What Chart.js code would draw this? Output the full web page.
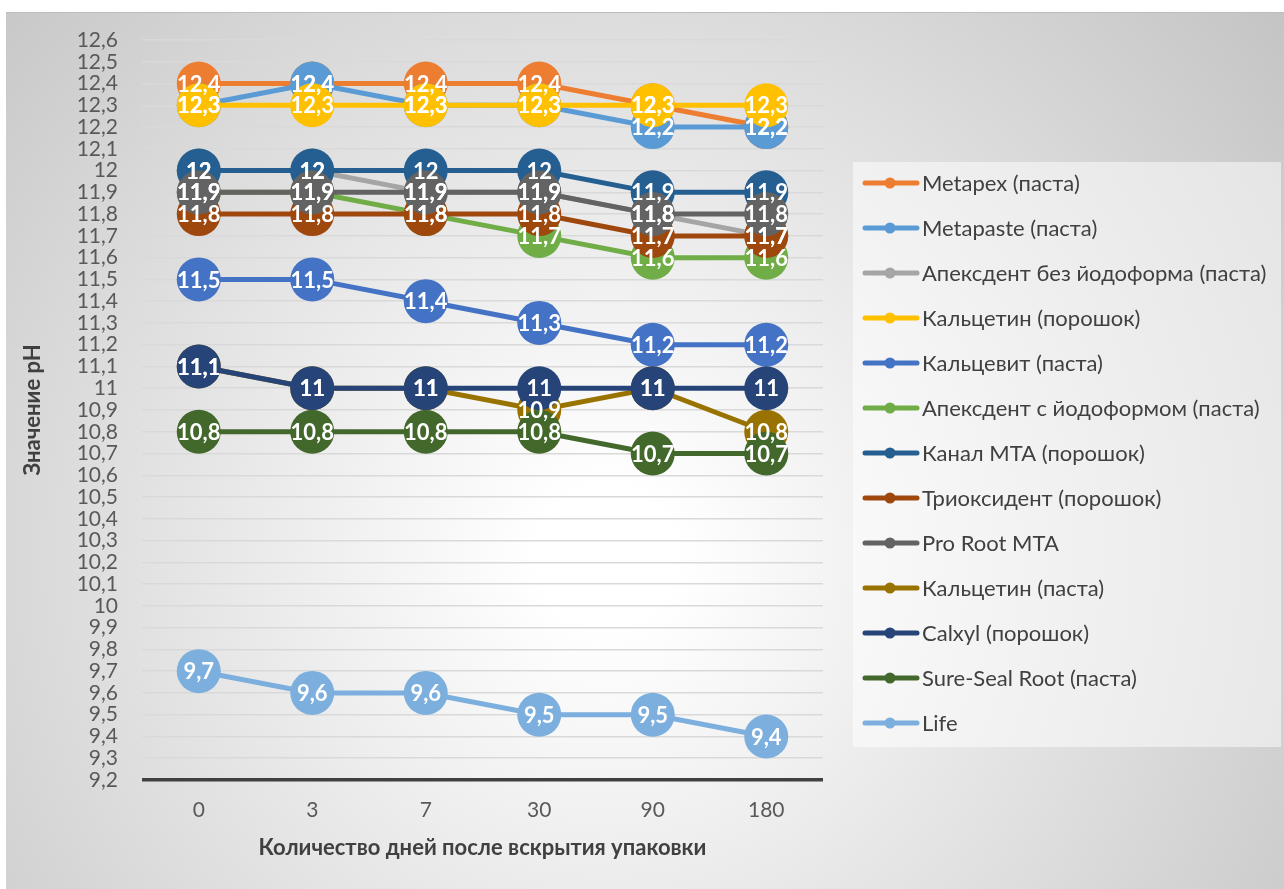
<!DOCTYPE html>
<html>
<head>
<meta charset="utf-8">
<script src="https://cdn.jsdelivr.net/npm/chart.js@4.4.1/dist/chart.umd.min.js"></script>
<style>
  body { margin: 0; background: #fff; }
  #wrap { position: relative; width: 1284px; height: 889px; }
  #bg {
    position: absolute; left: 6px; top: 12px; width: 1278px; height: 877px;
    background: radial-gradient(circle farthest-corner at 47% 62%, #ffffff 8%, #c4c4c4 100%);
    border-top: 1px solid #bdbdbd;
  }
  #myChart { position: absolute; left: 0; top: 0; }
</style>
</head>
<body>
<div id="wrap">
  <div id="bg"></div>
  <canvas id="myChart" width="1284" height="889"></canvas>
</div>
<script>
var days = ['0', '3', '7', '30', '90', '180'];

var seriesNames = [
  'Metapex (паста)',
  'Metapaste (паста)',
  'Апексдент без йодоформа (паста)',
  'Кальцетин (порошок)',
  'Кальцевит (паста)',
  'Апексдент с йодоформом (паста)',
  'Канал МТА (порошок)',
  'Триоксидент (порошок)',
  'Pro Root MTA',
  'Кальцетин (паста)',
  'Calxyl (порошок)',
  'Sure-Seal Root (паста)',
  'Life'
];

var metapex     = [12.4, 12.4, 12.4, 12.4, 12.3, 12.2];
var metapaste   = [12.3, 12.4, 12.3, 12.3, 12.2, 12.2];
var apexBez     = [12.0, 12.0, 11.9, 11.9, 11.8, 11.7];
var calcetinPor = [12.3, 12.3, 12.3, 12.3, 12.3, 12.3];
var calcevit    = [11.5, 11.5, 11.4, 11.3, 11.2, 11.2];
var apexS       = [11.9, 11.9, 11.8, 11.7, 11.6, 11.6];
var kanalMTA    = [12.0, 12.0, 12.0, 12.0, 11.9, 11.9];
var trioxident  = [11.8, 11.8, 11.8, 11.8, 11.7, 11.7];
var proRoot     = [11.9, 11.9, 11.9, 11.9, 11.8, 11.8];
var calcetinPas = [11.1, 11.0, 11.0, 10.9, 11.0, 10.8];
var calxyl      = [11.1, 11.0, 11.0, 11.0, 11.0, 11.0];
var sureSeal    = [10.8, 10.8, 10.8, 10.8, 10.7, 10.7];
var life        = [9.7, 9.6, 9.6, 9.5, 9.5, 9.4];

var yTicks = [9.2, 9.3, 9.4, 9.5, 9.6, 9.7, 9.8, 9.9, 10, 10.1, 10.2, 10.3, 10.4, 10.5,
  10.6, 10.7, 10.8, 10.9, 11, 11.1, 11.2, 11.3, 11.4, 11.5, 11.6, 11.7, 11.8, 11.9,
  12, 12.1, 12.2, 12.3, 12.4, 12.5, 12.6];

var allValues = [metapex, metapaste, apexBez, calcetinPor, calcevit, apexS, kanalMTA,
  trioxident, proRoot, calcetinPas, calxyl, sureSeal, life];

var colors = ['#ED7D31', '#5B9BD5', '#A5A5A5', '#FFC000', '#4472C4', '#70AD47', '#255E91',
  '#9E480E', '#636363', '#997300', '#264478', '#43682B', '#7CAFDD'];

function fmt(v){
  return (Math.round(v * 10) / 10).toString().replace('.', ',');
}

var datasets = [];
for (var i = 0; i < allValues.length; i++) {
  datasets.push({
    label: seriesNames[i],
    data: allValues[i],
    borderColor: colors[i],
    backgroundColor: colors[i],
    pointBackgroundColor: colors[i],
    pointBorderWidth: 0,
    pointRadius: 22,
    pointHoverRadius: 22,
    borderWidth: 5,
    tension: 0,
    fill: false,
    clip: false,
    order: allValues.length - i
  });
}

// white value labels on top of the markers
var valueLabels = {
  id: 'valueLabels',
  afterDatasetsDraw: function(chart){
    var ctx = chart.ctx;
    ctx.save();
    ctx.font = 'bold 22px Lato';
    ctx.fillStyle = '#ffffff';
    ctx.textAlign = 'center';
    ctx.textBaseline = 'middle';
    for (var d = 0; d < chart.data.datasets.length; d++) {
      var meta = chart.getDatasetMeta(d);
      var vals = chart.data.datasets[d].data;
      meta.data.forEach(function(pt, k){
        ctx.fillText(fmt(vals[k]), pt.x, pt.y + 1);
      });
    }
    ctx.restore();
  }
};

// legend box on the right
var sideLegend = {
  id: 'sideLegend',
  afterDraw: function(chart){
    var ctx = chart.ctx;
    ctx.save();
    ctx.fillStyle = 'rgba(255,255,255,0.5)';
    ctx.fillRect(853, 162, 428, 585);
    ctx.font = '22px Lato';
    ctx.textBaseline = 'middle';
    ctx.textAlign = 'left';
    for (var d = 0; d < chart.data.datasets.length; d++) {
      var ds = chart.data.datasets[d];
      var y = 183 + d * 45;
      ctx.strokeStyle = ds.borderColor;
      ctx.lineWidth = 5;
      ctx.lineCap = 'round';
      ctx.beginPath();
      ctx.moveTo(865, y);
      ctx.lineTo(917, y);
      ctx.stroke();
      ctx.fillStyle = ds.borderColor;
      ctx.beginPath();
      ctx.arc(890, y, 5.5, 0, Math.PI * 2);
      ctx.fill();
      ctx.fillStyle = '#404040';
      ctx.fillText(ds.label, 922, y + 1);
    }
    ctx.restore();
  }
};

var ctx = document.getElementById('myChart').getContext('2d');
var myChart = new Chart(ctx, {
  type: 'line',
  data: {
    labels: days,
    datasets: datasets
  },
  options: {
    responsive: false,
    animation: false,
    layout: {
      padding: { left: 6, top: 40, right: 461, bottom: 0 }
    },
    plugins: {
      legend: { display: false },
      tooltip: { enabled: false }
    },
    scales: {
      x: {
        offset: true,
        grid: { display: false, drawTicks: false },
        border: { display: false },
        ticks: {
          color: '#595959',
          font: { family: 'Lato', size: 21 },
          padding: 18
        },
        title: {
          display: true,
          text: 'Количество дней после вскрытия упаковки',
          color: '#404040',
          font: { family: 'Lato', size: 22, weight: 'bold' },
          padding: { top: 0, bottom: 28 }
        },
        afterFit: function(scale){ scale.height = 109; }
      },
      y: {
        min: 9.2,
        max: 12.6,
        afterBuildTicks: function(scale){
          scale.ticks = yTicks.map(function(v){ return { value: v }; });
        },
        grid: {
          drawTicks: false,
          color: function(c){ return c.tick && c.tick.value === 9.2 ? '#404040' : '#d9d9d9'; },
          lineWidth: function(c){ return c.tick && c.tick.value === 9.2 ? 3.5 : 1.5; }
        },
        border: { display: false },
        ticks: {
          autoSkip: false,
          color: '#595959',
          font: { family: 'Lato', size: 21 },
          padding: 24,
          callback: function(v){ return fmt(v); }
        },
        title: {
          display: true,
          text: 'Значение pH',
          color: '#404040',
          font: { family: 'Lato', size: 22, weight: 'bold' },
          padding: { top: 14, bottom: 0 }
        },
        afterFit: function(scale){ scale.width = 136; }
      }
    }
  },
  plugins: [valueLabels, sideLegend]
});
</script>
</body>
</html>
